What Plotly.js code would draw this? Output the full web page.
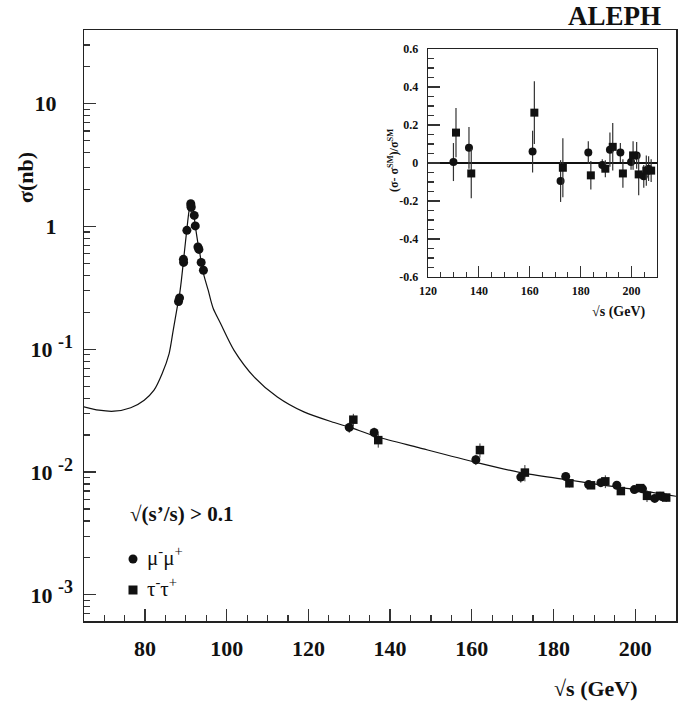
<!DOCTYPE html>
<html>
<head>
<meta charset="utf-8">
<script src="https://cdn.plot.ly/plotly-3.0.1.min.js"></script>
<style>html,body{margin:0;padding:0;background:#fff;}#chart{width:694px;height:702px;}</style>
</head>
<body>
<div id="chart"></div>
<script>
// ---- Standard Model curve ----
const curveX = [65, 68.7, 72.4, 76.5, 79.8, 82.2, 84.2, 85.9, 86.9, 87.9, 88.4, 88.9, 89.4, 90.2, 90.8, 91.25, 91.7, 92.0, 92.3, 92.9, 93.3, 94.0, 94.5, 95.5, 96.1, 96.7, 98.5, 101.8, 106.7, 112.4, 118.9, 126.3, 130, 137, 147, 161, 172, 183, 190, 200, 210];
const curveY = [0.0340, 0.0319, 0.0313, 0.0334, 0.0385, 0.0464, 0.0634, 0.0923, 0.1426, 0.221, 0.271, 0.364, 0.52, 0.92, 1.35, 1.57, 1.40, 1.22, 1.02, 0.75, 0.64, 0.46, 0.39, 0.30, 0.25, 0.215, 0.162, 0.098, 0.0596, 0.0409, 0.0309, 0.0253, 0.0232, 0.0193, 0.0158, 0.0120, 0.0099, 0.0087, 0.0080, 0.0072, 0.00635];

// ---- mu+mu- cross sections (nb) ----
const muX = [88.2, 88.45, 89.4, 89.45, 90.25, 91.2, 91.25, 91.3, 92.05, 92.3, 92.95, 93.2, 93.75, 94.3, 130.0, 136.1, 161.0, 172.0, 183.0, 188.6, 191.6, 195.5, 199.8, 201.8, 204.8, 206.6];
const muY = [0.245, 0.262, 0.54, 0.51, 0.93, 1.53, 1.47, 1.43, 1.23, 1.01, 0.68, 0.65, 0.51, 0.44, 0.0231, 0.0210, 0.0126, 0.0091, 0.0092, 0.0079, 0.0082, 0.0078, 0.0072, 0.0073, 0.0061, 0.0063];
const muErr = [0, 0, 0, 0, 0, 0, 0, 0, 0, 0, 0, 0, 0, 0, 0.0022, 0.0020, 0.0012, 0.0009, 0.0005, 0.0003, 0.0005, 0.0004, 0.0003, 0.0005, 0.0004, 0.0004];

// ---- tau+tau- cross sections (nb) ----
const tauX = [131.0, 137.1, 162.0, 173.0, 183.9, 189.2, 192.7, 196.5, 201.2, 202.9, 206.1, 207.6];
const tauY = [0.0267, 0.0182, 0.0151, 0.0099, 0.0081, 0.0078, 0.0084, 0.0070, 0.0074, 0.0064, 0.0064, 0.0062];
const tauErr = [0.0031, 0.0024, 0.0020, 0.0015, 0.0006, 0.0004, 0.0010, 0.0005, 0.0005, 0.0007, 0.0005, 0.0005];

// ---- inset: (sigma - sigma_SM)/sigma_SM ----
const rMuX = [130.0, 136.1, 161.1, 172.1, 183.0, 188.5, 191.5, 195.6, 199.8, 202.0, 204.8, 206.7];
const rMuY = [0.005, 0.08, 0.06, -0.095, 0.055, -0.01, 0.07, 0.055, 0.005, 0.04, -0.07, -0.03];
const rMuErr = [0.10, 0.11, 0.11, 0.11, 0.06, 0.03, 0.09, 0.05, 0.04, 0.07, 0.06, 0.065];
const rTauX = [131.0, 137.0, 161.8, 173.0, 184.0, 189.7, 192.6, 196.6, 200.6, 202.8, 205.8, 207.7];
const rTauY = [0.16, -0.055, 0.265, -0.025, -0.065, -0.03, 0.085, -0.055, 0.04, -0.06, -0.04, -0.04];
const rTauErr = [0.13, 0.13, 0.165, 0.155, 0.075, 0.045, 0.125, 0.075, 0.075, 0.11, 0.08, 0.06];

// ---- tick labels ----
const nb = '\u00a0';
const sup = s => '10' + nb + '<sup><span style="font-size:18px">' + s + '</span></sup>';
const mainXTicks = [80, 100, 120, 140, 160, 180, 200];
const mainYTicks = [0.001, 0.01, 0.1, 1, 10];
const mainYText = [sup('-3'), sup('-2'), sup('-1'), '1' + nb + nb + nb, '10' + nb + nb + nb];
const insetXTicks = [120, 140, 160, 180, 200];
const insetYTicks = [-0.6, -0.4, -0.2, 0, 0.2, 0.4, 0.6];
const insetYText = ['-0.6', '-0.4', '-0.2', '0', '0.2', '0.4', '0.6'];

const minorY = [];
for (let e = -4; e <= 1; e++) for (let m = 2; m <= 9; m++) minorY.push(m * Math.pow(10, e));

const SERIF = 'Liberation Serif, Times New Roman, serif';
const INK = '#111';

const traces = [
  {x: curveX, y: curveY, mode: 'lines', line: {color: INK, width: 1.2, shape: 'spline', smoothing: 0.8}, xaxis: 'x', yaxis: 'y', showlegend: false, hoverinfo: 'skip'},
  {x: muX, y: muY, mode: 'markers', marker: {symbol: 'circle', size: 9, color: INK},
   error_y: {type: 'data', array: muErr, visible: true, thickness: 1, width: 0, color: '#333'}, xaxis: 'x', yaxis: 'y', showlegend: false},
  {x: tauX, y: tauY, mode: 'markers', marker: {symbol: 'square', size: 8.5, color: INK},
   error_y: {type: 'data', array: tauErr, visible: true, thickness: 1, width: 0, color: '#333'}, xaxis: 'x', yaxis: 'y', showlegend: false},
  {x: rMuX, y: rMuY, mode: 'markers', marker: {symbol: 'circle', size: 8, color: INK},
   error_y: {type: 'data', array: rMuErr, visible: true, thickness: 1.2, width: 0, color: '#333'}, xaxis: 'x2', yaxis: 'y2', showlegend: false},
  {x: rTauX, y: rTauY, mode: 'markers', marker: {symbol: 'square', size: 8, color: INK},
   error_y: {type: 'data', array: rTauErr, visible: true, thickness: 1.2, width: 0, color: '#333'}, xaxis: 'x2', yaxis: 'y2', showlegend: false}
];

// pixel -> paper helpers (plot area: left 84, right 676, top 30, bottom 621)
const L = 84, R = 676, T = 30, B = 621;
const px = v => (v - L) / (R - L);
const py = v => (B - v) / (B - T);

const layout = {
  width: 694, height: 702,
  margin: {l: L, r: 694 - R, t: T, b: 702 - B},
  paper_bgcolor: '#fff', plot_bgcolor: '#fff',
  showlegend: false,
  font: {family: SERIF, color: INK},
  xaxis: {
    domain: [0, 1], range: [65.06, 210], tickmode: 'array', tickvals: mainXTicks,
    ticks: 'inside', ticklen: 12, tickwidth: 1.3, tickcolor: '#333',
    minor: {dtick: 5, tick0: 0, ticks: 'inside', ticklen: 6, tickwidth: 1.2, tickcolor: '#333'},
    showline: true, mirror: true, linecolor: '#222', linewidth: 1.5,
    showgrid: false, zeroline: false, ticklabelstandoff: 7,
    tickfont: {family: SERIF, size: 22, weight: 'bold', color: INK}
  },
  yaxis: {
    domain: [0, 1], type: 'log', range: [-3.213, 1.60], tickmode: 'array', tickvals: mainYTicks, ticktext: mainYText,
    ticks: 'inside', ticklen: 12, tickwidth: 1.3, tickcolor: '#333',
    minor: {tickmode: 'array', tickvals: minorY, ticks: 'inside', ticklen: 6, tickwidth: 1.2, tickcolor: '#333'},
    showline: true, mirror: true, linecolor: '#222', linewidth: 1.5,
    showgrid: false, zeroline: false, ticklabelstandoff: 5,
    tickfont: {family: SERIF, size: 22, weight: 'bold', color: INK}
  },
  xaxis2: {
    anchor: 'y2', domain: [px(428), px(657)], range: [120, 210], tickmode: 'array', tickvals: insetXTicks,
    ticks: 'inside', ticklen: 11, tickwidth: 1.2, tickcolor: '#333',
    minor: {dtick: 5, tick0: 0, ticks: 'inside', ticklen: 5, tickwidth: 1.1, tickcolor: '#333'},
    showline: true, mirror: true, linecolor: '#222', linewidth: 1.3,
    showgrid: false, zeroline: false, ticklabelstandoff: 2,
    tickfont: {family: SERIF, size: 12, weight: 'bold', color: INK}
  },
  yaxis2: {
    anchor: 'x2', domain: [py(277), py(49)], range: [-0.6, 0.6], tickmode: 'array', tickvals: insetYTicks, ticktext: insetYText,
    ticks: 'inside', ticklen: 12, tickwidth: 1.2, tickcolor: '#333',
    minor: {dtick: 0.05, tick0: 0, ticks: 'inside', ticklen: 6, tickwidth: 1.1, tickcolor: '#333'},
    showline: true, mirror: true, linecolor: '#222', linewidth: 1.3,
    showgrid: false, zeroline: true, zerolinecolor: '#111', zerolinewidth: 1.5, ticklabelstandoff: 6,
    tickfont: {family: SERIF, size: 12, weight: 'bold', color: INK}
  },
  shapes: [
    {type: 'circle', xref: 'paper', yref: 'paper', x0: px(128.5), x1: px(137.5), y0: py(563.5), y1: py(554.5), fillcolor: INK, line: {width: 0}},
    {type: 'rect', xref: 'paper', yref: 'paper', x0: px(128.5), x1: px(137.5), y0: py(594.5), y1: py(585.5), fillcolor: INK, line: {width: 0}}
  ],
  annotations: [
    {text: 'ALEPH', xref: 'paper', yref: 'paper', x: px(663), y: py(16), xanchor: 'right', yanchor: 'middle', showarrow: false,
     font: {family: SERIF, size: 27, weight: 'bold', color: INK}},
    {text: 'σ(nb)', xref: 'paper', yref: 'paper', x: px(25), y: py(178), xanchor: 'center', yanchor: 'middle', textangle: -90, showarrow: false,
     font: {family: SERIF, size: 22, weight: 'bold', color: INK}},
    {text: '√s (GeV)', xref: 'paper', yref: 'paper', x: px(640), y: py(688), xanchor: 'right', yanchor: 'middle', showarrow: false,
     font: {family: SERIF, size: 22, weight: 'bold', color: INK}},
    {text: '√s (GeV)', xref: 'paper', yref: 'paper', x: px(648), y: py(312), xanchor: 'right', yanchor: 'middle', showarrow: false,
     font: {family: SERIF, size: 14, weight: 'bold', color: INK}},
    {text: '(σ- σ<sup>SM</sup>)/σ<sup>SM</sup>', xref: 'paper', yref: 'paper', x: px(393), y: py(161), xanchor: 'center', yanchor: 'middle', textangle: -90, showarrow: false,
     font: {family: SERIF, size: 12, weight: 'bold', color: INK}},
    {text: '√(s’/s) > 0.1', xref: 'paper', yref: 'paper', x: px(128), y: py(514), xanchor: 'left', yanchor: 'middle', showarrow: false,
     font: {family: SERIF, size: 21, weight: 'bold', color: INK}},
    {text: 'μ<sup>-</sup>μ<sup>+</sup>', xref: 'paper', yref: 'paper', x: px(145), y: py(556), xanchor: 'left', yanchor: 'middle', showarrow: false,
     font: {family: SERIF, size: 21, color: INK}},
    {text: 'τ<sup>-</sup>τ<sup>+</sup>', xref: 'paper', yref: 'paper', x: px(145), y: py(587), xanchor: 'left', yanchor: 'middle', showarrow: false,
     font: {family: SERIF, size: 21, color: INK}}
  ]
};

Plotly.newPlot('chart', traces, layout, {staticPlot: true, displayModeBar: false});
</script>
</body>
</html>
